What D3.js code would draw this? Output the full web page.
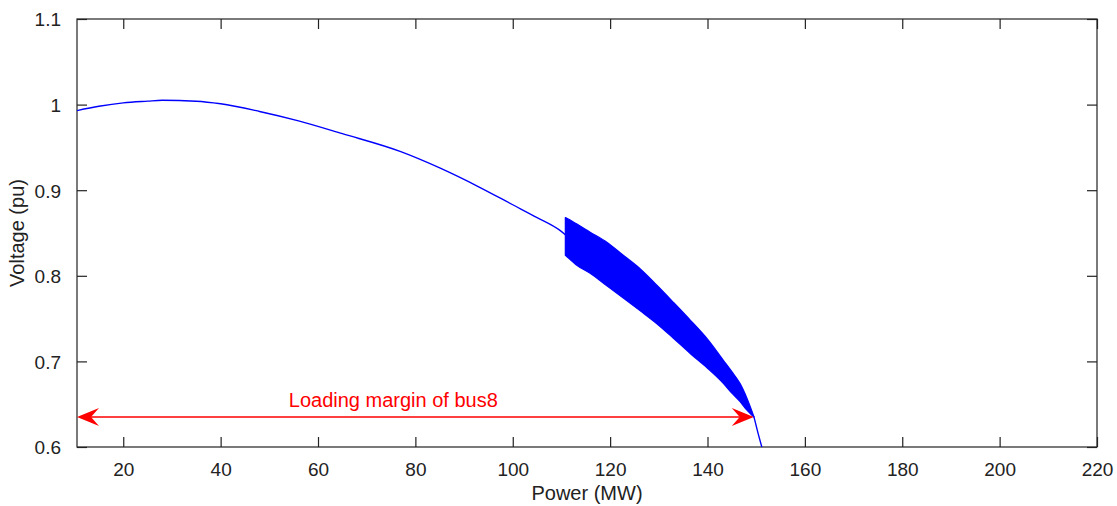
<!DOCTYPE html>
<html>
<head>
<meta charset="utf-8">
<script src="https://cdn.jsdelivr.net/npm/d3@7"></script>
<style>
  html, body { margin: 0; padding: 0; background: #fff; }
  svg { display: block; }
  text { font-family: "Liberation Sans", Arial, sans-serif; }
</style>
</head>
<body>
<div id="chart"></div>
<script>
// ---- data ----
const xTicks = [20, 40, 60, 80, 100, 120, 140, 160, 180, 200, 220];
const yTicks = [0.6, 0.7, 0.8, 0.9, 1.0, 1.1];
const yTickLabels = ["0.6", "0.7", "0.8", "0.9", "1", "1.1"];

// smooth part of the P-V curve before the oscillation band
const preX = [10.5, 15, 20, 25, 28, 35, 40, 48, 56, 65, 77, 85, 93, 100, 105, 109.7, 110.8];
const preV = [0.993, 0.998, 1.002, 1.004, 1.005, 1.004, 1.001, 0.992, 0.981, 0.966, 0.945, 0.926, 0.904, 0.883, 0.868, 0.853, 0.848];

// oscillation band envelope
const bandX     = [110.8, 111.2, 113, 115.9, 119.4, 122.7, 126.2, 129.6, 133, 136.5, 140, 143.3, 145, 146.7, 148.1, 149.5];
const bandUpper = [0.868, 0.867, 0.861, 0.851, 0.839, 0.824, 0.808, 0.789, 0.769, 0.748, 0.726, 0.701, 0.688, 0.674, 0.657, 0.636];
const bandLower = [0.824, 0.822, 0.813, 0.803, 0.788, 0.774, 0.759, 0.744, 0.727, 0.709, 0.692, 0.674, 0.663, 0.653, 0.643, 0.635];

// collapse after the band
const postX = [149.5, 150.3, 151.3];
const postV = [0.636, 0.618, 0.597];

// annotation
const arrowFrom = 10.5, arrowTo = 149.5, arrowV = 0.635;
const annoText = "Loading margin of bus8";
const annoX = 54, annoV = 0.6468;

// ---- layout ----
const W = 1117, H = 506;
const margin = { left: 77, right: 20, top: 19, bottom: 59 };
const iw = W - margin.left - margin.right;
const ih = H - margin.top - margin.bottom;

const svg = d3.select("#chart").append("svg").attr("width", W).attr("height", H);
const g = svg.append("g").attr("transform", `translate(${margin.left},${margin.top})`);

const x = d3.scaleLinear().domain([10.5, 220]).range([0, iw]);
const y = d3.scaleLinear().domain([0.6, 1.1]).range([ih, 0]);

svg.append("defs").append("clipPath").attr("id", "clip")
  .append("rect").attr("width", iw).attr("height", ih);

const axisColor = "#222";
const tickLen = 10;

// frame
g.append("rect").attr("width", iw).attr("height", ih)
  .attr("fill", "none").attr("stroke", axisColor).attr("stroke-width", 1.2);

// axes (inward ticks)
const fs = 19;
const xAxis = g.append("g").attr("transform", `translate(0,${ih})`)
  .call(d3.axisBottom(x).tickValues(xTicks).tickSize(-tickLen).tickPadding(tickLen + 10).tickFormat(d3.format("d")));
const xAxisTop = g.append("g")
  .call(d3.axisTop(x).tickValues(xTicks).tickSize(-tickLen).tickFormat(""));
const yAxis = g.append("g")
  .call(d3.axisLeft(y).tickValues(yTicks).tickSize(-tickLen).tickPadding(tickLen + 6).tickFormat((d, i) => yTickLabels[i]));
const yAxisR = g.append("g").attr("transform", `translate(${iw},0)`)
  .call(d3.axisRight(y).tickValues(yTicks).tickSize(-tickLen).tickFormat(""));

[xAxis, xAxisTop, yAxis, yAxisR].forEach(a => {
  a.select(".domain").remove();
  a.selectAll(".tick line").attr("stroke", axisColor).attr("stroke-width", 1.2);
  a.selectAll(".tick text").attr("fill", axisColor).attr("font-size", fs)
    .attr("font-family", "'Liberation Sans', Arial, sans-serif");
});
xAxis.selectAll(".tick text").attr("dy", "0.45em");
yAxis.selectAll(".tick text").attr("dy", "0.36em");

// axis labels
svg.append("text")
  .attr("x", margin.left + iw / 2).attr("y", 500)
  .attr("text-anchor", "middle").attr("font-size", 20).attr("fill", axisColor)
  .text("Power (MW)");
svg.append("text")
  .attr("transform", `translate(24,${margin.top + ih / 2}) rotate(-90)`)
  .attr("text-anchor", "middle").attr("font-size", 20).attr("fill", axisColor)
  .text("Voltage (pu)");

// data layer
const plot = g.append("g").attr("clip-path", "url(#clip)");
const line = d3.line().x(d => x(d[0])).y(d => y(d[1])).curve(d3.curveMonotoneX);

plot.append("path")
  .datum(preX.map((v, i) => [v, preV[i]]))
  .attr("d", line).attr("fill", "none").attr("stroke", "#0000ff").attr("stroke-width", 1.4);

const band = d3.area()
  .x(d => x(d[0])).y0(d => y(d[1])).y1(d => y(d[2])).curve(d3.curveMonotoneX);
plot.append("path")
  .datum(bandX.map((v, i) => [v, bandLower[i], bandUpper[i]]))
  .attr("d", band).attr("fill", "#0000ff").attr("stroke", "#0000ff").attr("stroke-width", 1.2)
  .attr("stroke-linejoin", "round");

plot.append("path")
  .datum(postX.map((v, i) => [v, postV[i]]))
  .attr("d", line).attr("fill", "none").attr("stroke", "#0000ff").attr("stroke-width", 1.4);

// annotation arrow (double headed)
const red = "#ff0000";
const ax0 = x(arrowFrom), ax1 = x(arrowTo), ay = y(arrowV);
g.append("line").attr("x1", ax0 + 10).attr("x2", ax1 - 10).attr("y1", ay).attr("y2", ay)
  .attr("stroke", red).attr("stroke-width", 1.6);
function head(tipX, dir) {
  // dir = +1 pointing right, -1 pointing left
  const L = 22, N = 14, Wd = 9;
  return `M${tipX},${ay} L${tipX - dir * L},${ay - Wd} L${tipX - dir * N},${ay} L${tipX - dir * L},${ay + Wd} Z`;
}
g.append("path").attr("d", head(ax0, -1)).attr("fill", red);
g.append("path").attr("d", head(ax1, 1)).attr("fill", red);

g.append("text")
  .attr("x", x(annoX)).attr("y", y(annoV))
  .attr("font-size", 20).attr("fill", red)
  .text(annoText);
</script>
</body>
</html>
